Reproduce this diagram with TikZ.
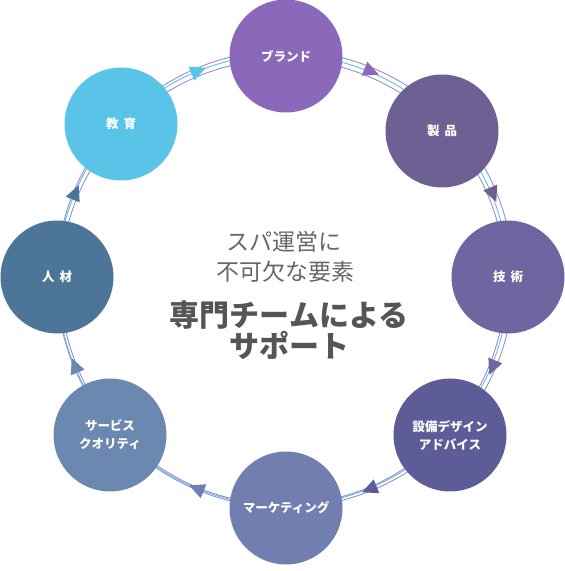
\documentclass[tikz,border=0pt]{standalone}
\usepackage{fontspec}
\newfontfamily\jp{Noto Sans CJK JP}
\definecolor{cBrand}{HTML}{8B69BA}
\definecolor{cSeihin}{HTML}{6E6093}
\definecolor{cGijutsu}{HTML}{6D66A0}
\definecolor{cSetsubi}{HTML}{5D5C98}
\definecolor{cMarke}{HTML}{717EB0}
\definecolor{cService}{HTML}{6B88B1}
\definecolor{cJinzai}{HTML}{4C7598}
\definecolor{cKyoiku}{HTML}{5AC3E8}
\definecolor{ringP}{HTML}{9A8CCB}
\definecolor{ringB}{HTML}{5AC3E8}
\definecolor{txtG}{HTML}{666666}
\definecolor{txtB}{HTML}{555555}
\begin{document}
\begin{tikzpicture}[x=1pt,y=1pt,
  ball/.style={circle, minimum size=113pt, inner sep=0pt, text=white, align=center,
    font=\jp\bfseries\fontsize{12.5}{18}\selectfont},
  ringline/.style={line width=0.9pt},
  centertxt/.style={text=txtG, font=\jp\fontsize{23}{28}\selectfont, inner sep=0pt},
  centerbold/.style={text=txtB, font=\jp\bfseries\fontsize{30}{32}\selectfont, inner sep=0pt}
]
\useasboundingbox (0,0) rectangle (565,571);
\coordinate (C) at (284,291);
% ring
\draw[ringline, ringP] (285,292) circle (228.5);
\draw[ringline, ringB] (283,291) circle (225.5);
\draw[ringline, ringP] (283,289) circle (222.5);
% nodes
\node[ball, fill=cBrand]   (brand)   at (286,515) {ブランド};
\node[ball, fill=cSeihin]  (seihin)  at (442,440) {製\hspace{5pt}品};
\node[ball, fill=cGijutsu] (gijutsu) at (508,294) {技\hspace{5pt}術};
\node[ball, fill=cSetsubi] (setsubi) at (450,136) {設備デザイン\\アドバイス};
\node[ball, fill=cMarke]   (marke)   at (286,63)  {マーケティング};
\node[ball, fill=cService] (service) at (110,136) {サービス\\クオリティ};
\node[ball, fill=cJinzai]  (jinzai)  at (57,294)  {人\hspace{5pt}材};
\node[ball, fill=cKyoiku]  (kyoiku)  at (121,447) {教\hspace{5pt}育};
% arrows on ring
\foreach \ang/\col in {112.5/cKyoiku, 67.5/cBrand, 22.5/cSeihin, -22.5/cGijutsu,
  -67.5/cSetsubi, -112.5/cMarke, -157.5/cService, 157.5/cJinzai}{
  \begin{scope}[shift={(C)}, rotate=\ang]
    \fill[\col] (226,-9) -- (218.5,6.5) -- (233.5,6.5) -- cycle;
  \end{scope}
}
% center text
\node[centertxt] (t1) at (284,329) {スパ運営に};
\node[centertxt] (t2) at (285,299) {不可欠な要素};
\node[centerbold] (t3) at (289,256) {専門チームによる};
\node[centerbold] (t4) at (289,226) {サポート};
\end{tikzpicture}
\end{document}
